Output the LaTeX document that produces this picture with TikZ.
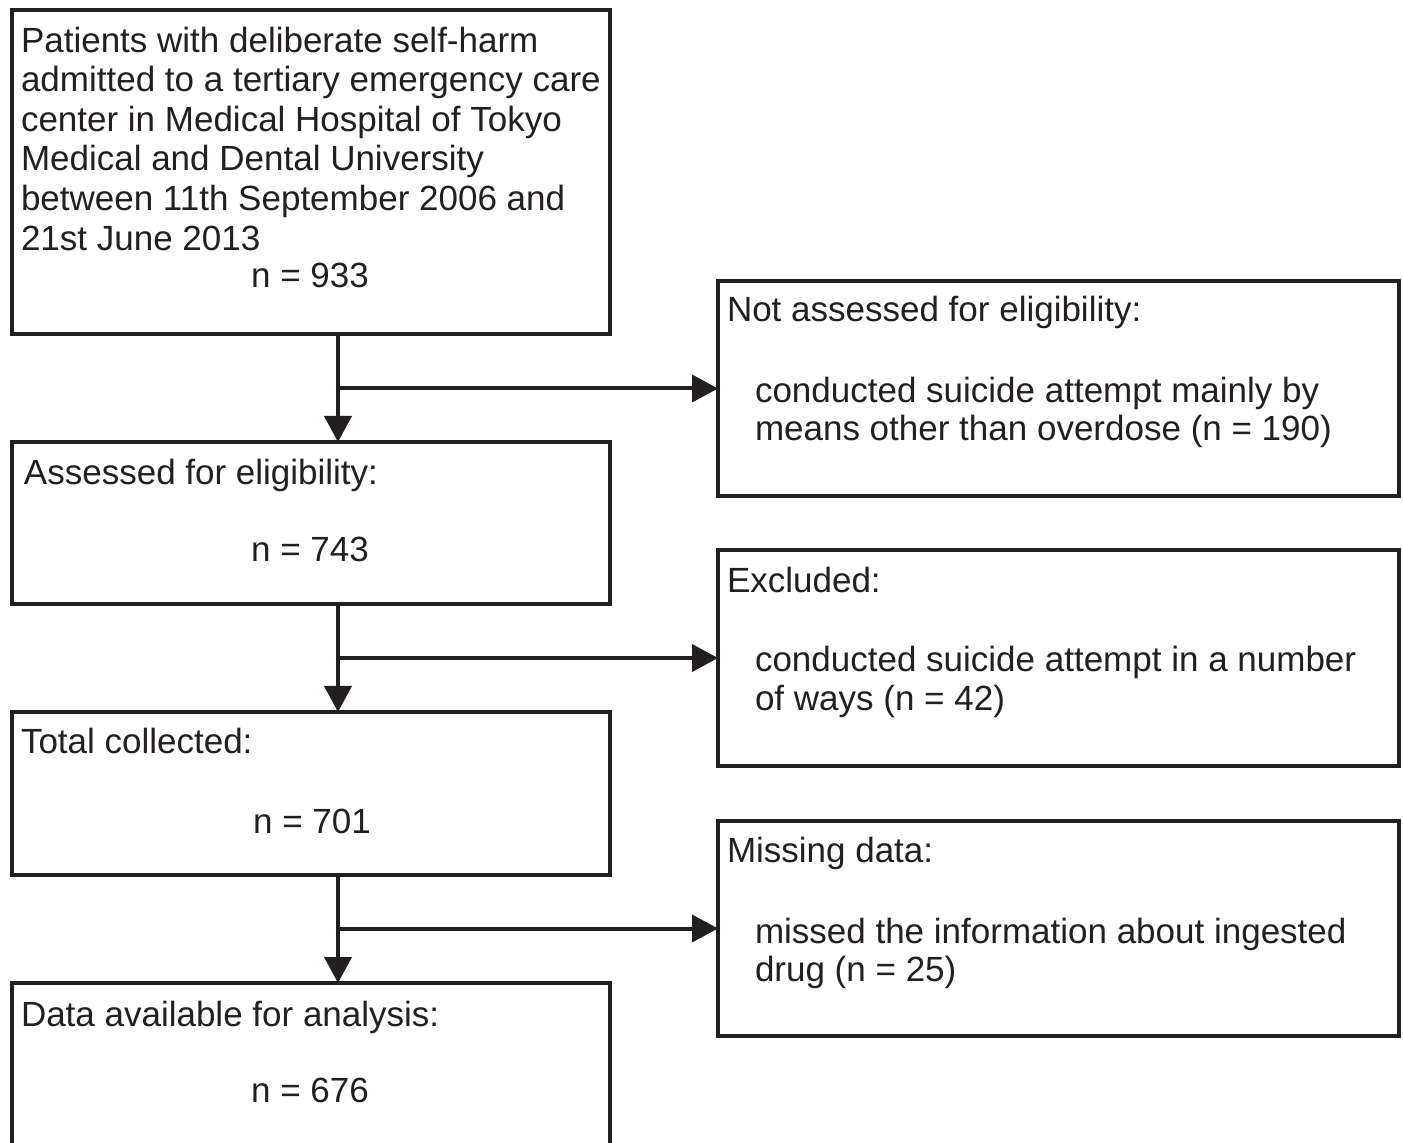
\documentclass[tikz,border=0pt]{standalone}
\usepackage{fontspec}
\setmainfont{Liberation Sans}
\usetikzlibrary{arrows.meta}
\definecolor{ink}{HTML}{231F20}
\begin{document}
\begin{tikzpicture}[x=0.5pt,y=-0.5pt,
  box/.style={draw=ink, line width=2pt, rectangle, inner sep=0pt, outer sep=0pt},
  txt/.style={anchor=base west, inner sep=0pt, outer sep=0pt, text=ink, font=\fontsize{17.5}{20}\selectfont},
  num/.style={anchor=base, inner sep=0pt, outer sep=0pt, text=ink, font=\fontsize{17.5}{20}\selectfont},
  arr/.style={draw=ink, line width=2pt, -{Triangle[length=13pt,width=13.5pt]}}]
\useasboundingbox (0,0) rectangle (1403,1143);
\clip (0,0) rectangle (1403,1143);
% left column boxes
\node[box, minimum width=299pt, minimum height=162pt] (b1) at (311,172) {};
\node[box, minimum width=299pt, minimum height=81pt] (b2) at (311,523) {};
\node[box, minimum width=299pt, minimum height=81.5pt] (b3) at (311,793.5) {};
\node[box, minimum width=299pt, minimum height=90pt] (b4) at (311,1073) {};
% right column boxes
\node[box, minimum width=340.5pt, minimum height=107.5pt] (r1) at (1058.5,388.5) {};
\node[box, minimum width=340.5pt, minimum height=108pt] (r2) at (1058.5,658) {};
\node[box, minimum width=340.5pt, minimum height=107.5pt] (r3) at (1058.5,928.5) {};
% texts box 1
\node[txt] (t1a) at (21,53) {Patients with deliberate self-harm};
\node[txt] (t1b) at (21,92) {admitted to a tertiary emergency care};
\node[txt] (t1c) at (21,132) {center in Medical Hospital of Tokyo};
\node[txt] (t1d) at (21,171) {Medical and Dental University};
\node[txt] (t1e) at (21,211) {between 11th September 2006 and};
\node[txt] (t1f) at (21,251) {21st June 2013};
\node[num] (n1) at (310,288) {n = 933};
% box 2
\node[txt] (t2) at (24,485) {Assessed for eligibility:};
\node[num] (n2) at (310,562) {n = 743};
% box 3
\node[txt] (t3) at (21,754) {Total collected:};
\node[num] (n3) at (312,834) {n = 701};
% box 4
\node[txt] (t4) at (21,1026) {Data available for analysis:};
\node[num] (n4) at (310,1102) {n = 676};
% right boxes
\node[txt] (s1) at (727,322) {Not assessed for eligibility:};
\node[txt] (s1a) at (755,403) {conducted suicide attempt mainly by};
\node[txt] (s1b) at (755,441) {means other than overdose (n = 190)};
\node[txt] (s2) at (727,593) {Excluded:};
\node[txt] (s2a) at (755,672) {conducted suicide attempt in a number};
\node[txt] (s2b) at (755,711) {of ways (n = 42)};
\node[txt] (s3) at (727,863) {Missing data:};
\node[txt] (s3a) at (755,943) {missed the information about ingested};
\node[txt] (s3b) at (755,981) {drug (n = 25)};
% connectors
\coordinate (v) at (338,0);
\draw[arr] (b1.south -| v) -- (b2.north -| v);
\draw[arr] (v |- r1.west) -- (r1.west);
\draw[arr] (b2.south -| v) -- (b3.north -| v);
\draw[arr] (v |- r2.west) -- (r2.west);
\draw[arr] (b3.south -| v) -- (b4.north -| v);
\draw[arr] (v |- r3.west) -- (r3.west);
\end{tikzpicture}
\end{document}
